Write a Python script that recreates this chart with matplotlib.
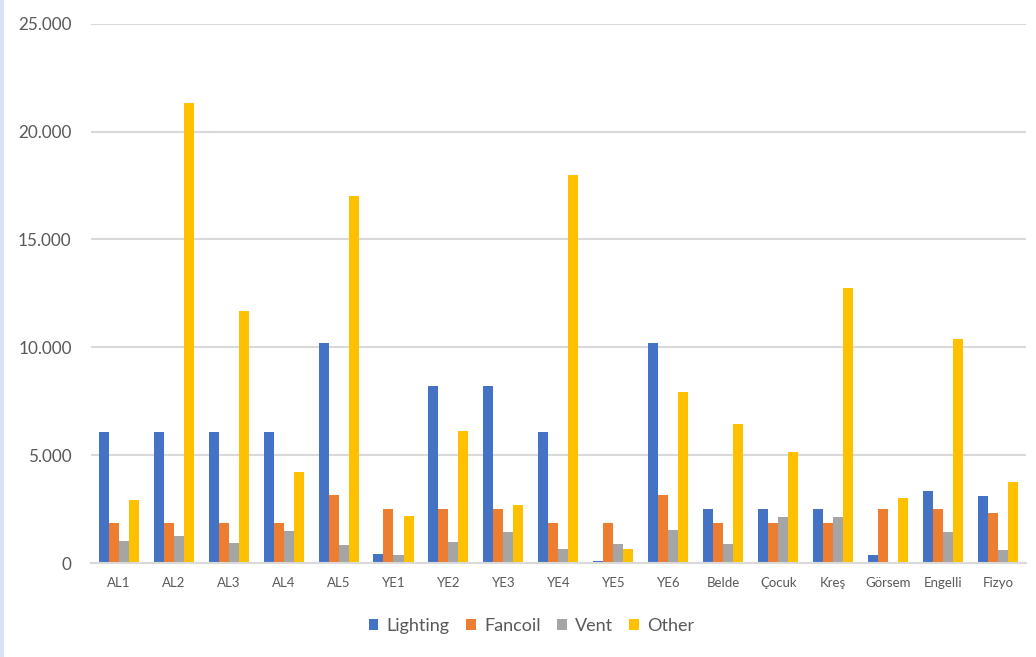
import matplotlib
matplotlib.use('Agg')
import matplotlib.pyplot as plt
from matplotlib.ticker import FuncFormatter
from matplotlib.lines import Line2D
import numpy as np

plt.rcParams['font.family'] = ['Lato', 'DejaVu Sans']

# energy use per building
buildings = ['AL1', 'AL2', 'AL3', 'AL4', 'AL5', 'YE1', 'YE2', 'YE3', 'YE4', 'YE5',
             'YE6', 'Belde', 'Çocuk', 'Kreş', 'Görsem', 'Engelli', 'Fizyo']
lighting = [6080, 6080, 6080, 6080, 10210, 410, 8200, 8200, 6080, 90,
            10210, 2500, 2500, 2500, 370, 3350, 3100]
fancoil = [1870, 1870, 1870, 1870, 3160, 2510, 2510, 2510, 1870, 1870,
           3160, 1870, 1870, 1870, 2510, 2510, 2330]
vent = [1010, 1270, 930, 1500, 830, 370, 970, 1440, 640, 890,
        1540, 890, 2150, 2150, 0, 1430, 600]
other = [2920, 21300, 11660, 4230, 17010, 2190, 6130, 2700, 17970, 670,
         7950, 6440, 5130, 12730, 3020, 10400, 3770]

series = [('Lighting', lighting, '#4472C4'),
          ('Fancoil', fancoil, '#ED7D31'),
          ('Vent', vent, '#A5A5A5'),
          ('Other', other, '#FFC000')]

txt = '#595959'
grid = '#D9D9D9'

fig = plt.figure(figsize=(10.36, 6.57), dpi=100)
ax = fig.add_axes([0.088, 0.143, 0.902, 0.821])

x = np.arange(len(buildings))
w = 0.182
for i, (name, vals, col) in enumerate(series):
    ax.bar(x + (i - 1.5) * w, vals, w, color=col, label=name, linewidth=0)

ax.set_xlim(-0.5, len(buildings) - 0.5)
ax.set_ylim(0, 25000)
ax.set_yticks(np.arange(0, 25001, 5000))
ax.yaxis.set_major_formatter(FuncFormatter(lambda v, p: '{:,.0f}'.format(v).replace(',', '.')))
ax.set_xticks(x)
ax.set_xticklabels(buildings)

ax.grid(axis='y', color=grid, linewidth=1.5)
ax.set_axisbelow(True)
for s in ['top', 'right', 'left']:
    ax.spines[s].set_visible(False)
ax.spines['bottom'].set_color(grid)
ax.spines['bottom'].set_linewidth(1.5)
ax.tick_params(axis='y', length=0, pad=14, labelsize=12.3, labelcolor=txt)
ax.tick_params(axis='x', length=0, pad=10, labelsize=9.5, labelcolor=txt)

fig.legend(loc='lower center', bbox_to_anchor=(0.513, 0.01), ncol=4, frameon=False,
           fontsize=13, labelcolor=txt, handlelength=0.55, handleheight=0.55,
           handletextpad=0.45, columnspacing=0.9)

# thin frame on the left edge
fig.add_artist(Line2D([0.002, 0.002], [0, 1], color='#DAE3F3', linewidth=3,
                      transform=fig.transFigure))

fig.savefig('out.png', dpi=100)
